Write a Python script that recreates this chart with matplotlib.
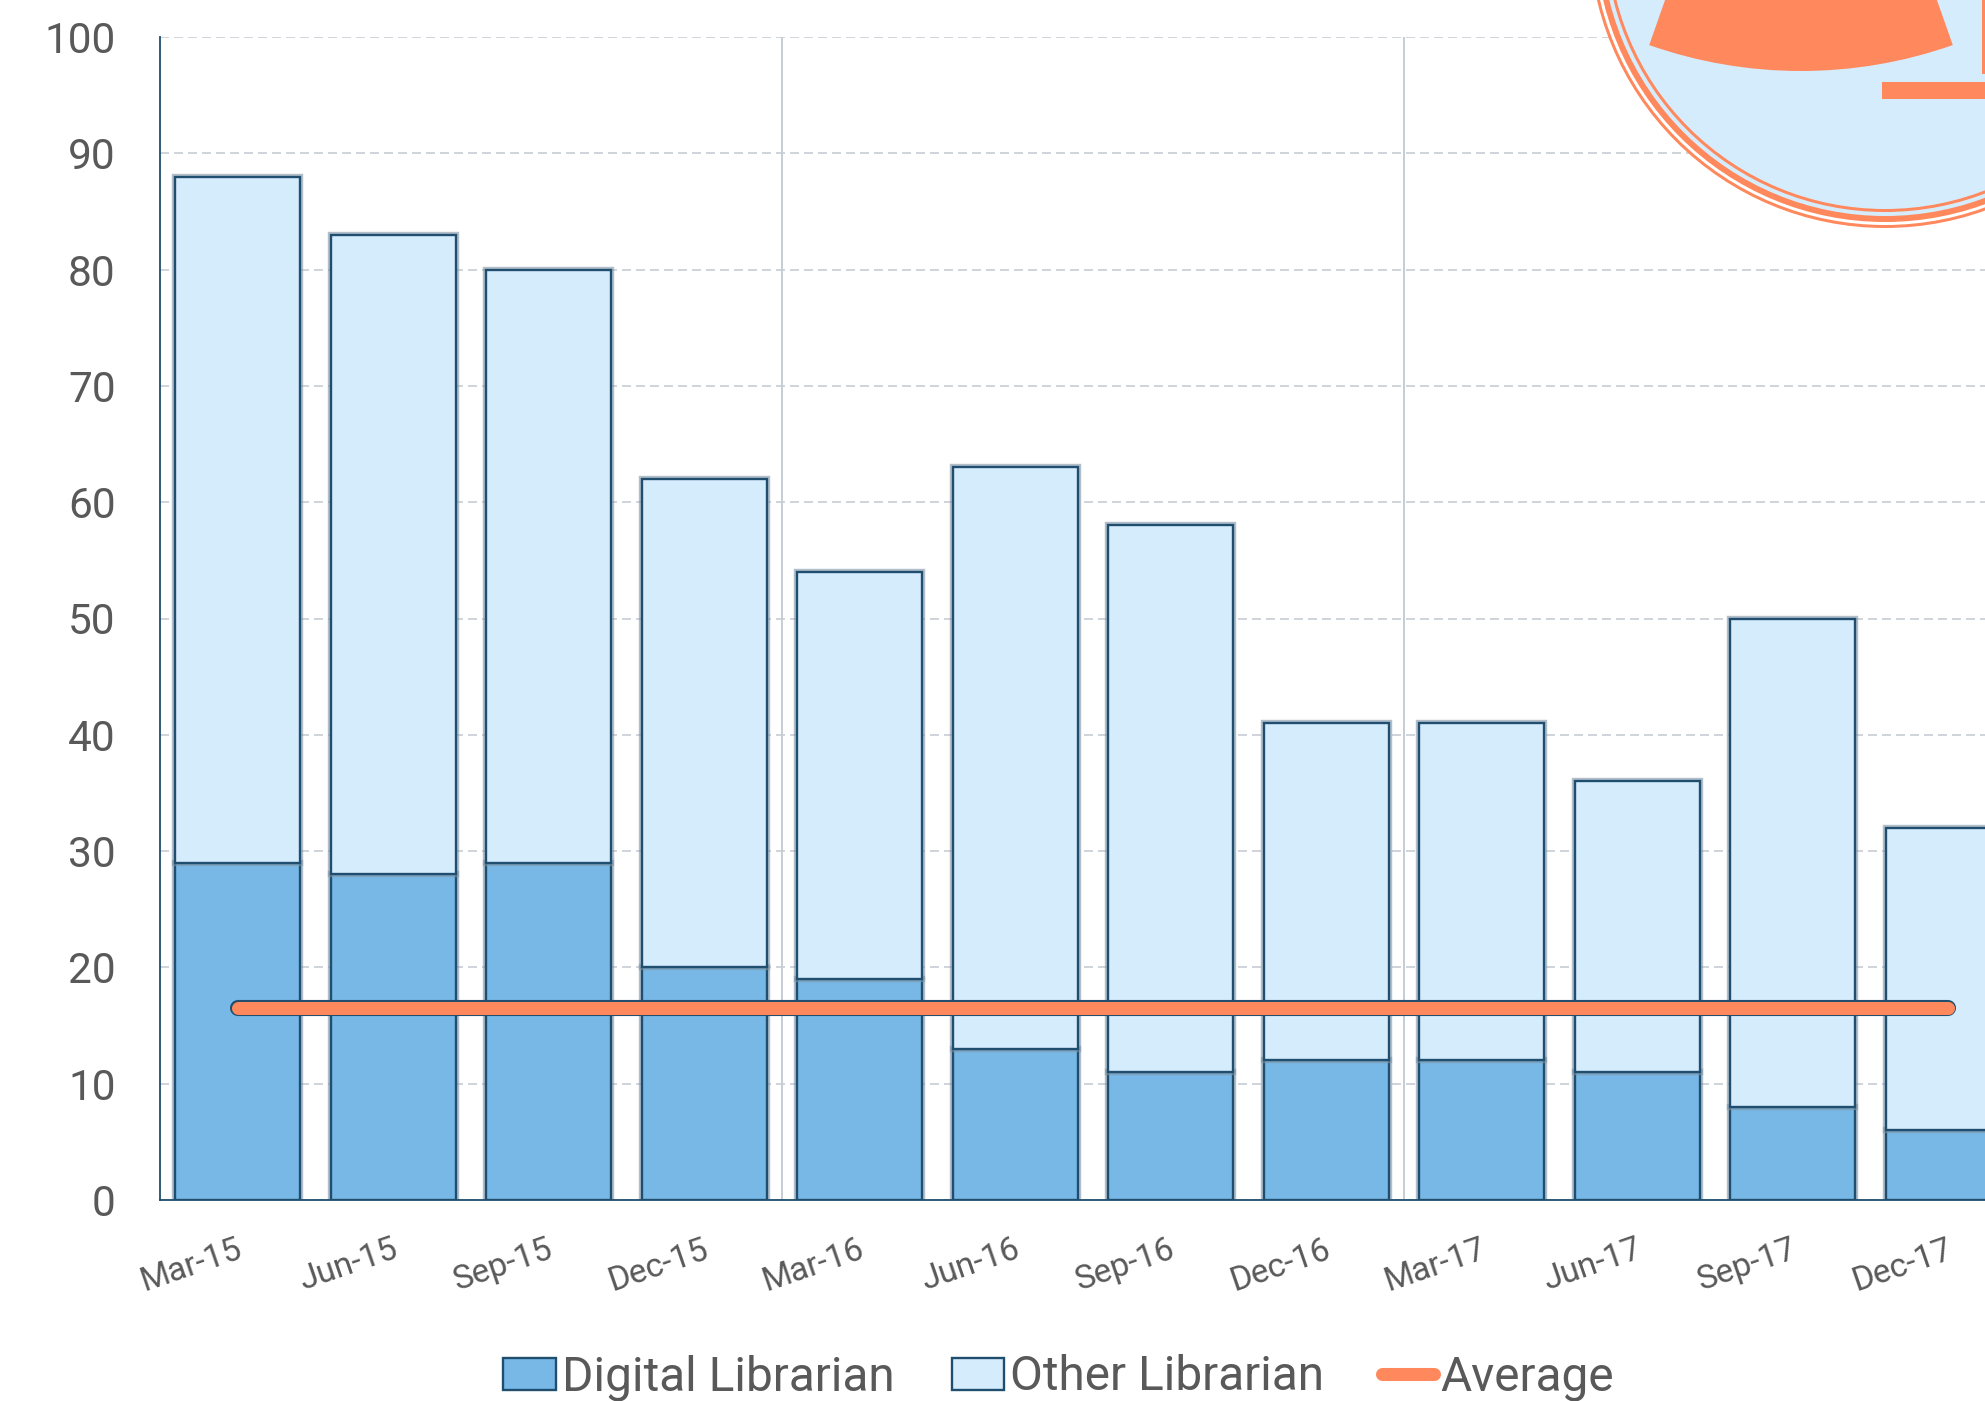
import numpy as np
import matplotlib
matplotlib.use("Agg")
import matplotlib.pyplot as plt
import matplotlib.patheffects as pe
from matplotlib.patches import Circle, Wedge, Rectangle
from matplotlib.lines import Line2D
from matplotlib.transforms import ScaledTranslation

# data
quarters = ["Mar-15", "Jun-15", "Sep-15", "Dec-15", "Mar-16", "Jun-16",
            "Sep-16", "Dec-16", "Mar-17", "Jun-17", "Sep-17", "Dec-17"]
digital = [29, 28, 29, 20, 19, 13, 11, 12, 12, 11, 8, 6]
other = [59, 55, 51, 42, 35, 50, 47, 29, 29, 25, 42, 26]
average = [16.5] * 12
yticks = list(range(0, 101, 10))
year_breaks = [3.5, 7.5]

DARK = "#1f4e6e"
GREY = "#595959"
ORANGE = "#ff885c"
LIGHT = "#d5ecfd"
BLUE = "#78b8e6"

plt.rcParams["font.family"] = "Roboto"

W, H = 1985, 1401
fig = plt.figure(figsize=(W / 100, H / 100), dpi=100, facecolor="white")
ax = fig.add_axes([160 / W, (H - 1200) / H, 1866 / W, 1163 / H])

halo = [pe.Stroke(linewidth=4.6, foreground="#7f95a8", alpha=0.6), pe.Normal()]
x = np.arange(len(quarters))
ax.bar(x, digital, width=0.803, color=BLUE, edgecolor=DARK, linewidth=1.7,
       path_effects=halo, zorder=3)
ax.bar(x, other, width=0.803, bottom=digital, color=LIGHT, edgecolor=DARK,
       linewidth=1.7, path_effects=halo, zorder=3)
ax.plot(x, average, color=ORANGE, lw=9.4, solid_capstyle="round", zorder=4,
        path_effects=[pe.Stroke(linewidth=11.6, foreground=DARK), pe.Normal()])

ax.set_xlim(-0.5, 11.5)
ax.set_ylim(0, 100)
ax.set_yticks(yticks)
ax.set_xticks(x)
ax.set_xticklabels(quarters, rotation=19, ha="right", rotation_mode="anchor",
                   fontsize=24, color=GREY)
ax.tick_params(axis="x", length=0, pad=24)
ax.tick_params(axis="y", length=0, pad=32, labelsize=30.5, labelcolor=GREY)
for t in ax.get_xticklabels():
    t.set_transform(t.get_transform() + ScaledTranslation(-2 / 100, 0, fig.dpi_scale_trans))

ax.yaxis.grid(True, color="#d0d5db", lw=1.44, linestyle=(0, (4.5, 2.5)), zorder=1)
ax.set_axisbelow(True)
for b in year_breaks:
    ax.axvline(b, color="#c5ccd3", lw=1.4, zorder=1)
for s in ["top", "right"]:
    ax.spines[s].set_visible(False)
for s in ["left", "bottom"]:
    ax.spines[s].set_color(DARK)
    ax.spines[s].set_linewidth(1.3)
    ax.spines[s].set_zorder(5)

handles = [
    Rectangle((0, 0), 1, 1, facecolor=BLUE, edgecolor=DARK, lw=1.7),
    Rectangle((0, 0), 1, 1, facecolor=LIGHT, edgecolor=DARK, lw=1.7),
    Line2D([0], [0], color=ORANGE, lw=9.4, solid_capstyle="round"),
]
fig.legend(handles, ["Digital Librarian", "Other Librarian", "Average"], ncol=3,
           loc="lower left", bbox_to_anchor=(503 / W, 0), borderpad=0, borderaxespad=0,
           frameon=False, labelcolor=GREY, fontsize=34.4,
           handlelength=1.1, handleheight=0.65, handletextpad=0.13, columnspacing=1.2)

# logo in the top right corner, in pixel coordinates of the picture
logo = fig.add_axes([0, 0, 1, 1], zorder=6)
logo.set_xlim(0, W)
logo.set_ylim(H, 0)
logo.axis("off")
logo.patch.set_alpha(0)
cx, cy = 1885, -68
for r, c in [(296, ORANGE), (293, "white"), (290, ORANGE), (284, LIGHT), (280, ORANGE), (277, LIGHT)]:
    logo.add_patch(Circle((cx, cy), r, facecolor=c, edgecolor="none"))
logo.add_patch(Wedge((1801, -386), 457, 70.6, 109.4, facecolor=ORANGE, edgecolor="none"))
logo.add_patch(Rectangle((1882, 82), 103, 17, facecolor=ORANGE, edgecolor="none"))
logo.add_patch(Rectangle((1982, 0), 3, 74, facecolor=ORANGE, edgecolor="none"))

fig.savefig("out.png", dpi=100)
